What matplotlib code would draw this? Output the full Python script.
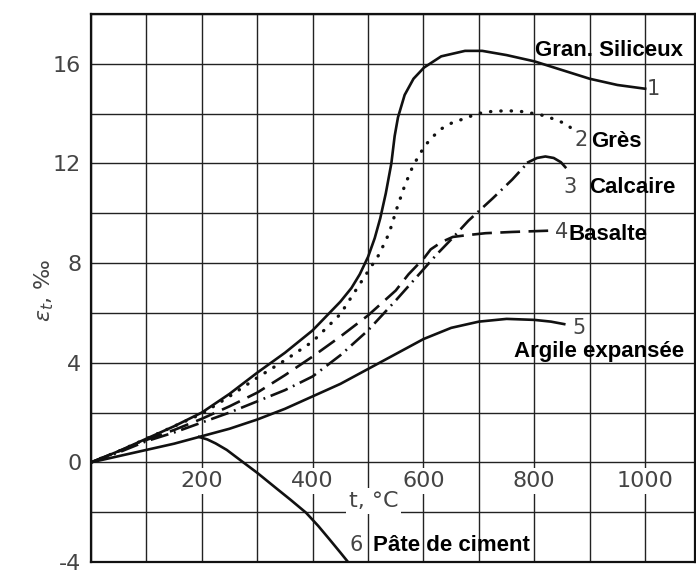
import numpy as np
import matplotlib.pyplot as plt

# curves: t in degC, strain in per mille
t1 = [0, 50, 100, 150, 200, 250, 300, 350, 400, 450, 470, 485, 500, 512, 522, 532, 542, 548, 554,
      566, 582, 601, 632, 675, 706, 750, 800, 850, 900, 950, 1000]
e1 = [0, 0.45, 0.95, 1.45, 2.0, 2.75, 3.6, 4.4, 5.3, 6.45, 7.0, 7.55, 8.25, 9.0, 9.8, 10.8, 12.0, 13.1, 13.85,
      14.75, 15.4, 15.85, 16.3, 16.52, 16.52, 16.35, 16.1, 15.75, 15.4, 15.15, 15.0]

t2 = [0, 50, 100, 150, 200, 250, 300, 350, 400, 450, 495, 520, 538, 552, 566, 581, 602,
      618, 633, 653, 674, 697, 720, 750, 780, 812, 840, 860, 872]
e2 = [0, 0.45, 0.95, 1.45, 1.95, 2.65, 3.4, 4.1, 4.85, 5.95, 7.5, 8.35, 9.2, 10.2, 11.1, 11.9, 12.7,
      13.1, 13.4, 13.65, 13.8, 14.0, 14.08, 14.12, 14.08, 13.95, 13.75, 13.55, 13.3]

t3 = [0, 50, 100, 150, 200, 250, 300, 350, 400, 450, 500, 550, 600, 624, 650, 681, 725, 760, 789]
e3 = [0, 0.4, 0.85, 1.2, 1.6, 2.0, 2.45, 2.9, 3.45, 4.3, 5.3, 6.5, 7.75, 8.35, 8.95, 9.7, 10.6, 11.35, 12.05]
t3_end = [789, 805, 820, 835, 848, 856]
e3_end = [12.05, 12.22, 12.28, 12.22, 12.05, 11.85]

t4 = [0, 50, 100, 150, 200, 250, 300, 350, 400, 450, 500, 550, 573, 601, 613, 633, 653, 678, 712, 760, 825]
e4 = [0, 0.45, 0.9, 1.3, 1.75, 2.25, 2.8, 3.5, 4.25, 5.05, 5.9, 6.9, 7.55, 8.2, 8.55, 8.85, 9.05, 9.12, 9.2, 9.25, 9.3]

t5 = [0, 50, 100, 150, 200, 250, 300, 350, 400, 450, 500, 550, 600, 650, 700, 750, 800, 830, 854]
e5 = [0, 0.25, 0.5, 0.75, 1.05, 1.35, 1.72, 2.15, 2.65, 3.15, 3.75, 4.35, 4.95, 5.4, 5.65, 5.76, 5.72, 5.65, 5.55]

t6 = [195, 210, 225, 245, 270, 300, 336, 360, 388, 410, 430, 450, 462]
e6 = [1.02, 0.92, 0.76, 0.5, 0.08, -0.42, -1.07, -1.5, -2.02, -2.55, -3.08, -3.62, -3.95]

x_tick_vals = [200, 400, 600, 800, 1000]
y_tick_vals = [-4, 0, 4, 8, 12, 16]

numbers = ['1', '2', '3', '4', '5', '6']
number_pos = [(1003, 15.0), (872, 12.95), (853, 11.05), (838, 9.25), (869, 5.38), (466, -3.3)]
names = ['Gran. Siliceux', 'Grès', 'Calcaire', 'Basalte', 'Argile expansée', 'Pâte de ciment']
name_pos = [(801, 16.55), (902, 12.9), (899, 11.05), (862, 9.15), (763, 4.45), (509, -3.35)]

ink = '#111111'
grey = '#444444'

fig = plt.figure(figsize=(6.96, 5.81), dpi=100)
ax = fig.add_axes([91 / 696, 1 - 562 / 581, 604 / 696, 548 / 581])
ax.set_xlim(0, 1090)
ax.set_ylim(-4, 18)

ax.set_xticks(np.arange(0, 1100, 100))
ax.set_yticks(np.arange(-4, 19, 2))
ax.set_xticklabels([])
ax.set_yticklabels([str(v) if v in y_tick_vals else '' for v in np.arange(-4, 19, 2)])
ax.tick_params(length=0, pad=7, labelsize=16, labelcolor=grey)
ax.tick_params(axis='x', labelbottom=False)
ax.grid(True, color='#222222', lw=1.0)
ax.set_axisbelow(True)
for s in ax.spines.values():
    s.set_linewidth(1.6)
    s.set_color(ink)

lw = 1.9
ax.plot(t1, e1, color=ink, lw=lw, zorder=3)
ax.plot(t2, e2, color=ink, lw=2.4, ls=(0, (0.1, 3.0)), dash_capstyle='round', zorder=3)
ax.plot(t3, e3, color=ink, lw=lw, ls=(0, (7, 2.2, 0.7, 2.2)), zorder=3)
ax.plot(t3_end, e3_end, color=ink, lw=lw, zorder=3)
ax.plot(t4, e4, color=ink, lw=lw, ls=(0, (7.5, 3.2)), zorder=3)
ax.plot(t5, e5, color=ink, lw=lw, zorder=3)
ax.plot(t6, e6, color=ink, lw=lw, zorder=3, clip_on=False)

box = dict(boxstyle='square,pad=0.12', fc='white', ec='none')
for v in x_tick_vals:
    ax.text(v, -0.75, str(v), ha='center', va='center', fontsize=16, color=grey,
            bbox=box, zorder=2)
ax.text(510, -1.55, 't, °C', ha='center', va='center', fontsize=16, color=grey,
        bbox=box, zorder=2)

ax.text(-0.078, 0.495, r'$\varepsilon_t$, ‰', transform=ax.transAxes, rotation=90,
        ha='center', va='center', fontsize=16, color=grey)

for s, (x, y) in zip(numbers, number_pos):
    ax.text(x, y, s, ha='left', va='center', fontsize=15, color=grey, zorder=4)
for s, (x, y) in zip(names, name_pos):
    ax.text(x, y, s, ha='left', va='center', fontsize=16, fontweight='bold',
            family='Liberation Sans', color='black', zorder=4, clip_on=False)

fig.savefig('out.png', dpi=100)
